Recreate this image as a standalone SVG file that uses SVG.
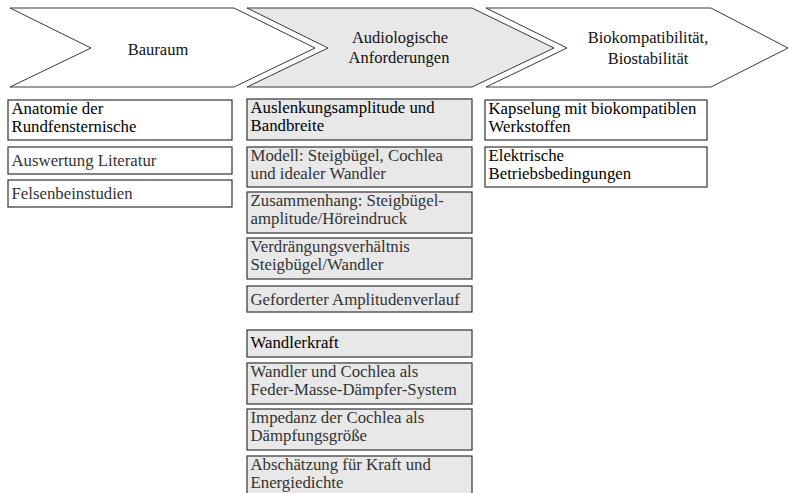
<svg xmlns="http://www.w3.org/2000/svg" width="789" height="493" viewBox="0 0 789 493">
<style>
.chev{stroke:#3a3a3a;stroke-width:1;stroke-linejoin:miter}
.w{fill:#ffffff}
.g{fill:#e8e8e8}
.box{stroke:#333;stroke-width:1.2}
text{font-family:'Liberation Serif','Times New Roman','DejaVu Serif',serif;font-size:16.8px;fill:#333}
.h{fill:#000}
.ct{font-size:16.5px;fill:#111;text-anchor:middle}
</style>
<rect width="789" height="493" fill="#ffffff"/>
<g font-family="Liberation Serif, Times New Roman, serif">
<g id="phase-bauraum">
<path class="chev w" d="M10,8 L234,8 L315,48 L234,87 L10,87 L91,48 Z"/>
<text class="ct" x="158" y="55">Bauraum</text>
</g>
<g id="phase-audiologie">
<path class="chev g" d="M247,8 L472,8 L554,48 L472,87 L247,87 L328,48 Z"/>
<text class="ct" x="400" y="43">Audiologische</text>
<text class="ct" x="399" y="63">Anforderungen</text>
</g>
<g id="phase-bio">
<path class="chev w" d="M486,8 L711,8 L788,48 L711,87 L486,87 L567,48 Z"/>
<text class="ct" x="648" y="43">Biokompatibilität,</text>
<text class="ct" x="648" y="64">Biostabilität</text>
</g>
<g id="a1"><rect class="box w" x="8" y="100" width="224" height="40"/><text class="h" x="11.5" y="113.8">Anatomie der</text><text class="h" x="11.5" y="131.5">Rundfensternische</text></g>
<g id="a2"><rect class="box w" x="8" y="147" width="224" height="27"/><text x="11.5" y="166.3">Auswertung Literatur</text></g>
<g id="a3"><rect class="box w" x="8" y="180" width="224" height="27"/><text x="11.5" y="199.3">Felsenbeinstudien</text></g>
<g id="b1"><rect class="box g" x="247" y="99" width="225" height="41"/><text class="h" x="250.5" y="112.8">Auslenkungsamplitude und</text><text class="h" x="250.5" y="130.5">Bandbreite</text></g>
<g id="b2"><rect class="box g" x="247" y="147" width="225" height="40"/><text x="250.5" y="160.8">Modell: Steigbügel, Cochlea</text><text x="250.5" y="178.5">und idealer Wandler</text></g>
<g id="b3"><rect class="box g" x="247" y="192" width="225" height="41"/><text x="250.5" y="205.8">Zusammenhang: Steigbügel-</text><text x="250.5" y="223.5">amplitude/Höreindruck</text></g>
<g id="b4"><rect class="box g" x="247" y="238" width="225" height="41"/><text x="250.5" y="251.8">Verdrängungsverhältnis</text><text x="250.5" y="269.5">Steigbügel/Wandler</text></g>
<g id="b5"><rect class="box g" x="247" y="286" width="225" height="26"/><text x="250.5" y="304.8">Geforderter Amplitudenverlauf</text></g>
<g id="b6"><rect class="box g" x="247" y="330" width="225" height="27"/><text class="h" x="250.5" y="348.3">Wandlerkraft</text></g>
<g id="b7"><rect class="box g" x="247" y="363" width="225" height="41"/><text x="250.5" y="376.8">Wandler und Cochlea als</text><text x="250.5" y="394.5">Feder-Masse-Dämpfer-System</text></g>
<g id="b8"><rect class="box g" x="247" y="409" width="225" height="41"/><text x="250.5" y="422.8">Impedanz der Cochlea als</text><text x="250.5" y="440.5">Dämpfungsgröße</text></g>
<g id="b9"><rect class="box g" x="247" y="456" width="225" height="41"/><text x="250.5" y="469.8">Abschätzung für Kraft und</text><text x="250.5" y="487.5">Energiedichte</text></g>
<g id="c1"><rect class="box w" x="485" y="100" width="222" height="40"/><text class="h" x="488.5" y="113.8">Kapselung mit biokompatiblen</text><text class="h" x="488.5" y="131.5">Werkstoffen</text></g>
<g id="c2"><rect class="box w" x="485" y="147" width="222" height="40"/><text class="h" x="488.5" y="160.8">Elektrische</text><text class="h" x="488.5" y="178.5">Betriebsbedingungen</text></g>
<g id="connectors"></g>
</g>
</svg>
